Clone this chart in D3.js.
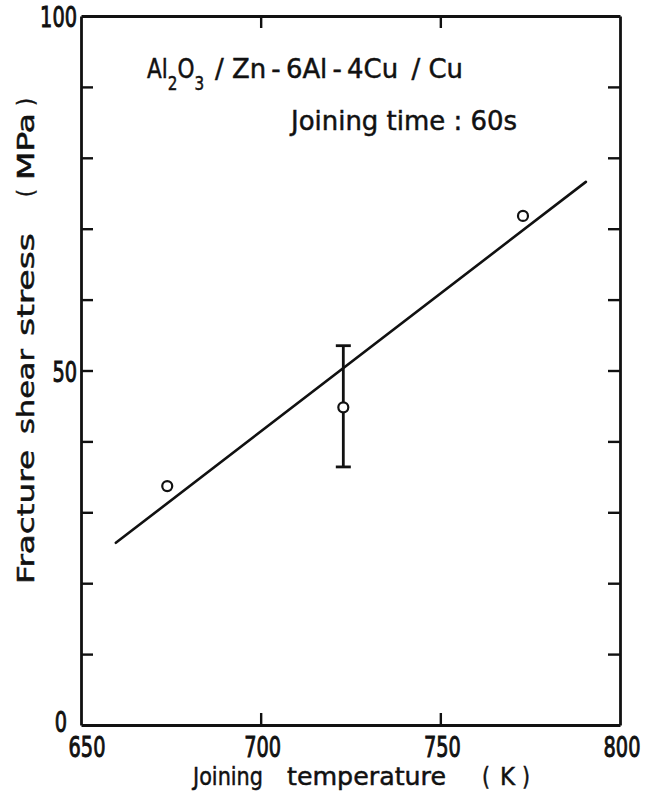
<!DOCTYPE html>
<html>
<head>
<meta charset="utf-8">
<script src="https://cdn.jsdelivr.net/npm/d3@7/dist/d3.min.js"></script>
<style>
  html, body { margin: 0; padding: 0; background: #fff; }
  svg { display: block; }
  text { font-family: "DejaVu Sans", "Roboto", sans-serif; font-weight: 400; fill: #111; stroke: #111; stroke-width: 0.5px; }
  text.num { stroke-width: 1px; }
</style>
</head>
<body>
<svg id="chart" width="666" height="796"></svg>
<script>
// Measured shear strength of the joints at each joining temperature
const temperatures = [674, 723, 773];          // K
const shearStress  = [33.7, 44.8, 71.8];       // MPa
const errorLow     = [null, 36.4, null];       // MPa, lower end of scatter
const errorHigh    = [null, 53.5, null];       // MPa, upper end of scatter

// Fitted trend line end points
const fitTemperature = [659.7, 790.5];
const fitStress      = [25.7, 76.6];

// Axis ticks
const xTicks = [650, 700, 750, 800];
const yTicks = [0, 10, 20, 30, 40, 50, 60, 70, 80, 90, 100];
const yTickLabels = [0, 50, 100];

const svg = d3.select("#chart");
const ink = "#111";

const x = d3.scaleLinear().domain([650, 800]).range([81, 620]);
const y = d3.scaleLinear().domain([0, 100]).range([725, 16]);

const tickLen = 12;
const frameW = 2.8;

// Frame with inward ticks on all four sides
const plot = svg.append("g");

const axisL = d3.axisLeft(y).tickValues(yTicks).tickSizeInner(-tickLen).tickSizeOuter(0).tickFormat("");
const axisR = d3.axisRight(y).tickValues(yTicks).tickSizeInner(-tickLen).tickSizeOuter(0).tickFormat("");
const axisB = d3.axisBottom(x).tickValues(xTicks).tickSizeInner(-tickLen).tickSizeOuter(0).tickFormat("");
const axisT = d3.axisTop(x).tickValues(xTicks).tickSizeInner(-tickLen).tickSizeOuter(0).tickFormat("");

function styleAxis(g) {
  g.selectAll("path.domain").attr("stroke", ink).attr("stroke-width", frameW);
  g.selectAll(".tick line").attr("stroke", ink).attr("stroke-width", 2.4);
}

plot.append("g").attr("transform", `translate(${x(650)},0)`).call(axisL).call(styleAxis);
plot.append("g").attr("transform", `translate(${x(800)},0)`).call(axisR).call(styleAxis);
plot.append("g").attr("transform", `translate(0,${y(0)})`).call(axisB).call(styleAxis);
plot.append("g").attr("transform", `translate(0,${y(100)})`).call(axisT).call(styleAxis);

// End ticks would sit on the frame corners
plot.selectAll(".tick").filter(d => d === 0 || d === 100 || d === 650 || d === 800)
  .select("line").attr("stroke-width", 0);

// Condensed numerals: roughly 12 px per digit
const numWidth = d => String(d).length * 12.3;

svg.append("g").selectAll("text").data(yTickLabels).join("text")
  .attr("class", "num")
  .attr("x", d => (d === 0 ? 67 : 77) - numWidth(d))
  .attr("y", d => d === 0 ? y(d) + 7 : y(d) + 11)
  .attr("font-size", 28)
  .attr("textLength", numWidth)
  .attr("lengthAdjust", "spacingAndGlyphs")
  .text(d => d);

svg.append("g").selectAll("text").data(xTicks).join("text")
  .attr("class", "num")
  .attr("x", d => x(d) + (d === 650 ? 6 : 2) - numWidth(d) / 2)
  .attr("y", 757)
  .attr("font-size", 28)
  .attr("textLength", numWidth)
  .attr("lengthAdjust", "spacingAndGlyphs")
  .text(d => d);

// Axis titles, word by word
function word(g, txt, pos, len, size) {
  return g.append("text").attr("x", pos).attr("y", 0)
    .attr("font-size", size)
    .attr("textLength", len).attr("lengthAdjust", "spacingAndGlyphs")
    .text(txt);
}

const xTitle = svg.append("g").attr("transform", "translate(0,785)");
word(xTitle, "Joining", 193, 70, 25);
word(xTitle, "temperature", 287, 159, 25);
word(xTitle, "(", 482, 8, 25);
word(xTitle, "K", 500, 15, 25);
word(xTitle, ")", 522, 8, 25);

const yTitle = svg.append("g").attr("transform", "translate(34,0) rotate(-90)");
word(yTitle, "Fracture", -584, 134, 23);
word(yTitle, "shear", -434, 85, 23);
word(yTitle, "stress", -336, 103, 23);
word(yTitle, "(", -197, 8, 23);
word(yTitle, "MPa", -180, 67, 23);
word(yTitle, ")", -106, 8, 23);

// Annotation: Al2O3 with subscripts, in one condensed text element
const note = svg.append("g");
const formula = note.append("g").attr("transform", "translate(147,78) scale(0.8,1)")
  .append("text").attr("x", 0).attr("y", 0).attr("font-size", 27);
formula.append("tspan").text("Al");
formula.append("tspan").attr("dy", 12).attr("font-size", 19).text("2");
formula.append("tspan").attr("dy", -12).text("O");
formula.append("tspan").attr("dy", 12).attr("font-size", 19).text("3");

note.append("text").attr("x", 215).attr("y", 78).attr("font-size", 27)
  .attr("textLength", 248).attr("lengthAdjust", "spacingAndGlyphs")
  .text("/ Zn\u2009-\u20096Al\u2009-\u20094Cu\u2009 / Cu");

note.append("text").attr("x", 291).attr("y", 130).attr("font-size", 27)
  .attr("textLength", 226).attr("lengthAdjust", "spacingAndGlyphs")
  .text("Joining  time : 60s");

// Fitted line
svg.append("line")
  .attr("x1", x(fitTemperature[0])).attr("y1", y(fitStress[0]))
  .attr("x2", x(fitTemperature[1])).attr("y2", y(fitStress[1]))
  .attr("stroke", ink).attr("stroke-width", 2.6).attr("stroke-linecap", "round");

// Scatter bars
const pts = temperatures.map((t, i) => ({ t, s: shearStress[i], lo: errorLow[i], hi: errorHigh[i] }));
const bars = svg.append("g").selectAll("g").data(pts.filter(d => d.lo !== null)).join("g");
bars.append("line")
  .attr("x1", d => x(d.t)).attr("x2", d => x(d.t))
  .attr("y1", d => y(d.lo)).attr("y2", d => y(d.hi))
  .attr("stroke", ink).attr("stroke-width", 2.8);
bars.selectAll("line.cap").data(d => [[d.t, d.lo], [d.t, d.hi]]).join("line")
  .attr("class", "cap")
  .attr("x1", d => x(d[0]) - 7.5).attr("x2", d => x(d[0]) + 7.5)
  .attr("y1", d => y(d[1])).attr("y2", d => y(d[1]))
  .attr("stroke", ink).attr("stroke-width", 2.8);

// Data points
svg.append("g").selectAll("circle").data(pts).join("circle")
  .attr("cx", d => x(d.t)).attr("cy", d => y(d.s))
  .attr("r", 5)
  .attr("fill", "#fff")
  .attr("stroke", ink).attr("stroke-width", 2.2);
</script>
</body>
</html>
